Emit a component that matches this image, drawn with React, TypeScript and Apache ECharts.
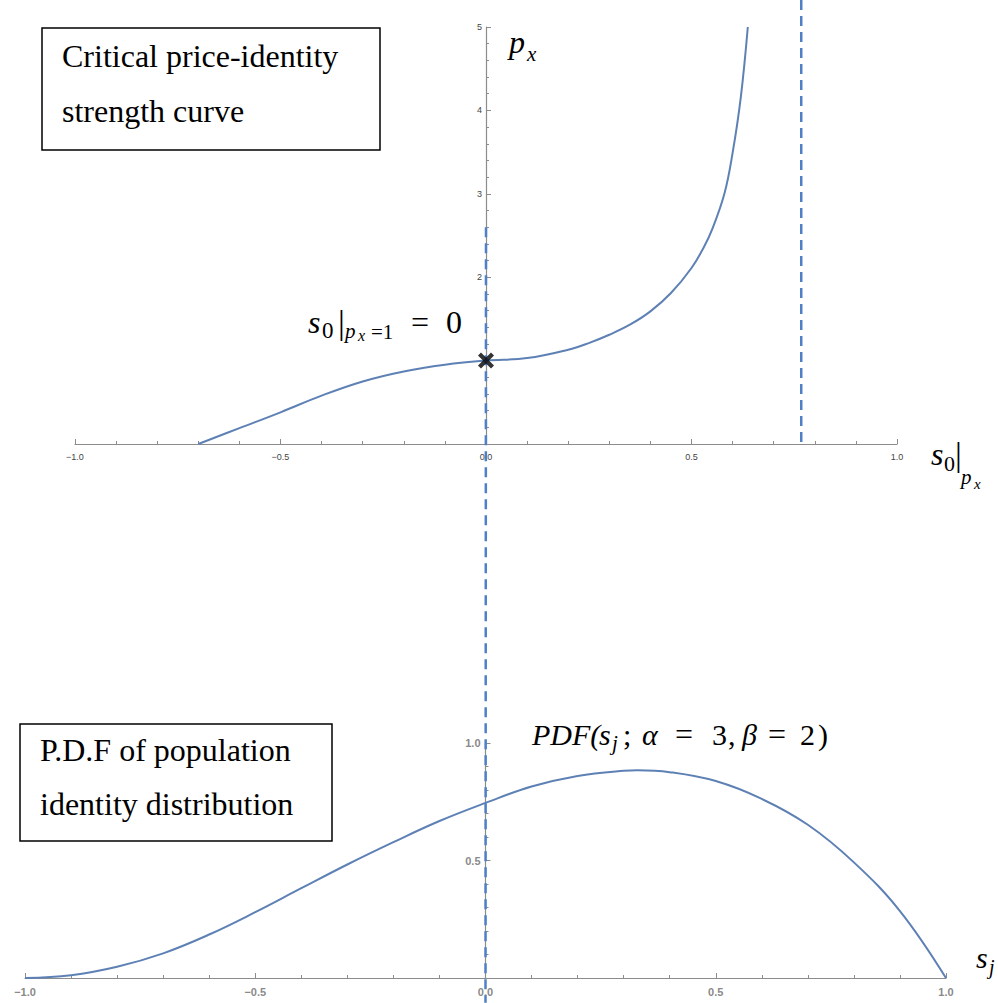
import React, { useEffect, useRef } from "react";
import * as echarts from "echarts";

// Critical price-identity strength curve (s0 -> p_x)
const curveS = [-0.7, -0.6, -0.5, -0.4, -0.3, -0.2, -0.1, 0, 0.1, 0.2, 0.25, 0.3, 0.35, 0.4, 0.45, 0.5, 0.53, 0.55, 0.58, 0.6, 0.62, 0.637];
const curveP = [0, 0.19, 0.38, 0.58, 0.75, 0.87, 0.95, 1.0, 1.03, 1.13, 1.21, 1.31, 1.43, 1.59, 1.81, 2.11, 2.36, 2.57, 3.0, 3.49, 4.16, 5.0];

// P.D.F of population identity distribution
const pdfS = [-1, -0.9, -0.8, -0.7, -0.6, -0.5, -0.4, -0.3, -0.2, -0.1, 0, 0.1, 0.2, 0.3, 0.33, 0.4, 0.5, 0.6, 0.7, 0.8, 0.9, 1.0];
const pdfP = [0, 0.012, 0.048, 0.105, 0.185, 0.28, 0.382, 0.483, 0.578, 0.668, 0.745, 0.815, 0.86, 0.882, 0.884, 0.876, 0.838, 0.762, 0.652, 0.492, 0.285, 0];

// marked point and reference lines
const markS = [0];
const markP = [1];
const asymptoteS = 0.767;
const zeroLineTopP = 2.6;
const zeroLineBottomP = -0.105;

// axis ranges / ticks
const sTicks = [-1, -0.5, 0, 0.5, 1];
const topPMax = 5;
const botPMax = 1;

const fmtS = (v: number) => (v === 0 ? "0.0" : v < 0 ? "\u2212" + Math.abs(v).toFixed(1) : v.toFixed(1));

const AXIS_COLOR = "#8c8c8c";
const CURVE_COLOR = "#5E81B5";
const DASH_COLOR = "#4F80C6";

const TOP_GRID = { left: 75, top: 27, width: 822, height: 417 };
const BOT_GRID = { left: 25, top: 743, width: 921, height: 235 };

const serif = '"Liberation Serif", "Times New Roman", serif';
const sans = '"Liberation Sans", Arial, sans-serif';

function T(text: string, x: number, baseline: number, size: number, italic = true, align = "left") {
  return {
    type: "text",
    x,
    y: baseline - 0.34 * size,
    z: 20,
    style: {
      text,
      font: `${italic ? "italic " : ""}${size}px ${serif}`,
      fill: "#000",
      align,
      verticalAlign: "middle",
    },
  };
}

export default function App() {
  const ref = useRef<HTMLDivElement>(null);
  useEffect(() => {
    const chart = echarts.init(ref.current!, null, { renderer: "svg" });
    const xAxisBase = (gridIndex: number, labelSize: number, labelColor: string, weight: string, margin: number) => ({
      type: "value",
      gridIndex,
      min: sTicks[0],
      max: sTicks[sTicks.length - 1],
      interval: 0.5,
      axisLine: { show: true, onZero: false, lineStyle: { color: AXIS_COLOR, width: 1.2 } },
      axisTick: { show: true, inside: true, length: 5, lineStyle: { color: AXIS_COLOR } },
      minorTick: { show: true, splitNumber: 5, length: 3, lineStyle: { color: AXIS_COLOR } },
      splitLine: { show: false },
      axisLabel: { formatter: fmtS, fontSize: labelSize, color: labelColor, fontWeight: weight, fontFamily: sans, margin },
    });
    const yAxisVisible = (gridIndex: number, max: number, interval: number, label: any) => ({
      type: "value",
      gridIndex,
      min: 0,
      max,
      interval,
      axisLine: { show: true, onZero: false, lineStyle: { color: AXIS_COLOR, width: 1.2 } },
      axisTick: { show: true, inside: true, length: 5, lineStyle: { color: AXIS_COLOR } },
      minorTick: { show: true, splitNumber: 5, length: 3, lineStyle: { color: AXIS_COLOR } },
      splitLine: { show: false },
      axisLabel: label,
    });
    // y axes stand at s = 0: an overlay grid whose left edge is the s = 0 position of each plot
    const zeroFrac = (0 - sTicks[0]) / (sTicks[sTicks.length - 1] - sTicks[0]);
    const option: any = {
      animation: false,
      backgroundColor: "#fff",
      grid: [
        { ...TOP_GRID },
        { ...BOT_GRID },
        { left: TOP_GRID.left + TOP_GRID.width * zeroFrac, top: TOP_GRID.top, width: TOP_GRID.width * (1 - zeroFrac), height: TOP_GRID.height },
        { left: BOT_GRID.left + BOT_GRID.width * zeroFrac, top: BOT_GRID.top, width: BOT_GRID.width * (1 - zeroFrac), height: BOT_GRID.height },
      ],
      xAxis: [
        xAxisBase(0, 9, "#444", "normal", 8),
        xAxisBase(1, 11, "#8a8a8a", "bold", 8),
        { type: "value", gridIndex: 2, min: 0, max: 1, show: false },
        { type: "value", gridIndex: 3, min: 0, max: 1, show: false },
      ],
      yAxis: [
        { type: "value", gridIndex: 0, min: 0, max: topPMax, show: false },
        { type: "value", gridIndex: 1, min: 0, max: botPMax, show: false },
        yAxisVisible(2, topPMax, 1, {
          formatter: (v: number) => (v >= 2 ? String(v) : ""),
          fontSize: 9,
          color: "#444",
          fontFamily: sans,
          margin: 4,
        }),
        yAxisVisible(3, botPMax, 0.5, {
          formatter: (v: number) => (v > 0 ? v.toFixed(1) : ""),
          fontSize: 11,
          color: "#8a8a8a",
          fontWeight: "bold",
          fontFamily: sans,
          margin: 5,
        }),
      ],
      series: [
        {
          type: "line",
          xAxisIndex: 0,
          yAxisIndex: 0,
          data: curveS.map((s, i) => [s, curveP[i]]),
          showSymbol: false,
          smooth: 0.4,
          lineStyle: { color: CURVE_COLOR, width: 2 },
          z: 3,
        },
        {
          type: "line",
          xAxisIndex: 1,
          yAxisIndex: 1,
          data: pdfS.map((s, i) => [s, pdfP[i]]),
          showSymbol: false,
          smooth: 0.4,
          lineStyle: { color: CURVE_COLOR, width: 2 },
          z: 3,
        },
        {
          type: "scatter",
          xAxisIndex: 0,
          yAxisIndex: 0,
          data: markS.map((s, i) => [s, markP[i]]),
          symbol: "path://M3,0 L8,5 L13,0 L16,3 L11,8 L16,13 L13,16 L8,11 L3,16 L0,13 L5,8 L0,3 Z",
          symbolSize: 16,
          itemStyle: { color: "#000" },
          z: 30,
        },
      ],
    };
    chart.setOption(option);

    const a = chart.convertToPixel({ gridIndex: 0 }, [0, zeroLineTopP]) as number[];
    const b = chart.convertToPixel({ gridIndex: 1 }, [0, zeroLineBottomP]) as number[];
    const c = chart.convertToPixel({ gridIndex: 0 }, [asymptoteS, topPMax * 1.065]) as number[];
    const d = chart.convertToPixel({ gridIndex: 0 }, [asymptoteS, 0]) as number[];
    const dash = (p: number[], q: number[]) => ({
      type: "line",
      z: 10,
      shape: { x1: p[0], y1: p[1], x2: q[0], y2: q[1] },
      style: { stroke: DASH_COLOR, lineWidth: 2.5, lineDash: [10, 6] },
    });

    const boxText = (text: string, x: number, cy: number) => ({
      type: "text",
      x,
      y: cy,
      z: 20,
      style: { text, font: `32px ${serif}`, fill: "#000", align: "left", verticalAlign: "middle" },
    });

    const graphic: any[] = [
      dash(a, b),
      dash(c, d),
      {
        type: "rect",
        z: 15,
        shape: { x: 42, y: 28, width: 338, height: 122 },
        style: { fill: "#fff", stroke: "#000", lineWidth: 1.5 },
      },
      boxText("Critical price-identity", 62, 56),
      boxText("strength curve", 62, 111),
      {
        type: "rect",
        z: 15,
        shape: { x: 20, y: 724, width: 312, height: 117 },
        style: { fill: "#fff", stroke: "#000", lineWidth: 1.5 },
      },
      boxText("P.D.F of population", 40, 750),
      boxText("identity distribution", 40, 804),
      // p_x
      T("p", 509, 53, 32),
      T("x", 527, 61, 21),
      // s0|px (axis label)
      T("s", 931, 465, 32),
      T("0", 944, 471, 22, false),
      T("|", 955, 466, 34, false),
      T("p", 961, 484, 21),
      T("x", 974, 489, 15),
      // s0|px=1 = 0
      T("s", 308, 333, 32),
      T("0", 322, 338, 23, false),
      T("|", 338, 334, 34, false),
      T("p", 345, 338, 21),
      T("x", 358, 341, 16),
      T("=1", 371, 339, 21, false),
      T("=", 411, 333, 32, false),
      T("0", 446, 333, 32, false),
      // PDF(s_j; alpha = 3, beta = 2)
      T("PDF(", 532, 745, 30),
      T("s", 599, 745, 30),
      T("j", 612, 750, 21),
      T(";", 623, 745, 30, false),
      T("\u03B1", 642, 745, 30),
      T("=", 675, 745, 32, false),
      T("3", 712, 745, 30, false),
      T(",", 728, 745, 30, false),
      T("\u03B2", 742, 745, 30),
      T("=", 768, 745, 32, false),
      T("2", 800, 745, 30, false),
      T(")", 818, 745, 30, false),
      // s_j
      T("s", 976, 968, 30),
      T("j", 989, 974, 20),
    ];
    chart.setOption({ graphic });
    return () => chart.dispose();
  }, []);
  return <div ref={ref} style={{ position: "fixed", left: 0, top: 0, width: 998, height: 1003 }} />;
}
